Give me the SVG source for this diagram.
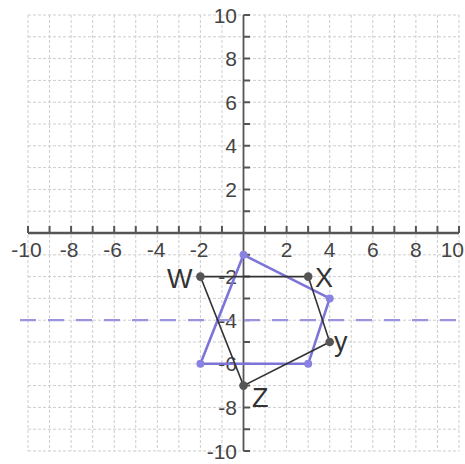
<svg xmlns="http://www.w3.org/2000/svg" width="465" height="464" viewBox="0 0 465 464">
<style>
.grid{stroke:#cdcdcd;stroke-width:1;stroke-dasharray:3 2;fill:none}
.axis{stroke:#555;fill:none}
.tick{stroke:#555;stroke-width:2;fill:none}
.num{font-family:"Liberation Sans",Arial,sans-serif;font-size:21px;fill:#444}
.lbl{font-family:"Liberation Sans",Arial,sans-serif;font-size:27px;fill:#333}
.blk{stroke:#333;stroke-width:1.6;fill:none}
.pur{stroke:#7d74d8;stroke-width:2.6;fill:none;stroke-linejoin:round}
.dash{stroke:#9b95e0;stroke-width:2.2;stroke-dasharray:16 12;fill:none}
.bdot{fill:#555}
.pdot{fill:#8a82e0}
</style>
<rect width="465" height="464" fill="#fff"/>
<g id="grid">
<path class="grid" d="M28 15V451M49.55 15V451M71.1 15V451M92.65 15V451M114.2 15V451M135.75 15V451M157.3 15V451M178.85 15V451M200.4 15V451M221.95 15V451M265.05 15V451M286.6 15V451M308.15 15V451M329.7 15V451M351.25 15V451M372.8 15V451M394.35 15V451M415.9 15V451M437.45 15V451M459 15V451"/>
<path class="grid" d="M28 15H459M28 36.8H459M28 58.6H459M28 80.4H459M28 102.2H459M28 124H459M28 145.8H459M28 167.6H459M28 189.4H459M28 211.2H459M28 254.8H459M28 276.6H459M28 298.4H459M28 320.2H459M28 342H459M28 363.8H459M28 385.6H459M28 407.4H459M28 429.2H459M28 451H459"/>
</g>
<g id="axes">
<line class="axis" x1="28" y1="233" x2="459" y2="233" stroke-width="2.6"/>
<line class="axis" x1="243.5" y1="15" x2="243.5" y2="451" stroke-width="1.8"/>
<path class="tick" d="M28 233V226M49.55 233V226M71.1 233V226M92.65 233V226M114.2 233V226M135.75 233V226M157.3 233V226M178.85 233V226M200.4 233V226M221.95 233V226M265.05 233V226M286.6 233V226M308.15 233V226M329.7 233V226M351.25 233V226M372.8 233V226M394.35 233V226M415.9 233V226M437.45 233V226M459 233V226"/>
<path class="tick" stroke-width="1.5" d="M243.5 15H250M243.5 36.8H250M243.5 58.6H250M243.5 80.4H250M243.5 102.2H250M243.5 124H250M243.5 145.8H250M243.5 167.6H250M243.5 189.4H250M243.5 211.2H250M243.5 254.8H250M243.5 276.6H250M243.5 298.4H250M243.5 320.2H250M243.5 342H250M243.5 363.8H250M243.5 385.6H250M243.5 407.4H250M243.5 429.2H250M243.5 451H250"/>
</g>
<g id="xlabels" class="num" text-anchor="middle">
<text x="26.5" y="257">-10</text>
<text x="69" y="257">-8</text>
<text x="112.5" y="257">-6</text>
<text x="156" y="257">-4</text>
<text x="199" y="257">-2</text>
<text x="286.6" y="257">2</text>
<text x="329.7" y="257">4</text>
<text x="372.8" y="257">6</text>
<text x="415.9" y="257">8</text>
<text x="464" y="257" text-anchor="end">10</text>
</g>
<g id="ylabels" class="num" text-anchor="end">
<text x="237" y="22.5">10</text>
<text x="237" y="66">8</text>
<text x="237" y="110">6</text>
<text x="237" y="153">4</text>
<text x="237" y="197">2</text>
<text x="237" y="284">-2</text>
<text x="237" y="328">-4</text>
<text x="237" y="371">-6</text>
<text x="237" y="415">-8</text>
<text x="237" y="459">-10</text>
</g>
<g id="connectors">
<line id="mirror-line" class="dash" x1="20" y1="320.2" x2="465" y2="320.2"/>
<polygon id="image-shape" class="pur" points="243.5,254.8 329.7,298.4 308.2,363.8 200.4,363.8"/>
<polygon id="WXYZ" class="blk" points="200.4,276.6 308.2,276.6 329.7,342 243.5,385.6"/>
</g>
<g id="image-vertices">
<circle class="pdot" cx="243.5" cy="254.8" r="4"/>
<circle class="pdot" cx="329.7" cy="298.4" r="4"/>
<circle class="pdot" cx="308.2" cy="363.8" r="4"/>
<circle class="pdot" cx="200.4" cy="363.8" r="4"/>
</g>
<g id="W"><circle class="bdot" cx="200.4" cy="276.6" r="4.3"/><text class="lbl" x="167" y="288">W</text></g>
<g id="X"><circle class="bdot" cx="308.2" cy="276.6" r="4.3"/><text class="lbl" x="315" y="287">X</text></g>
<g id="Y"><circle class="bdot" cx="329.7" cy="342" r="4.3"/><text class="lbl" x="334" y="351">y</text></g>
<g id="Z"><circle class="bdot" cx="243.5" cy="385.6" r="4.3"/><text class="lbl" x="252" y="407">Z</text></g>
</svg>
